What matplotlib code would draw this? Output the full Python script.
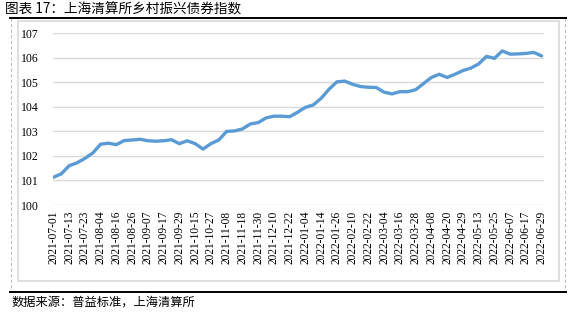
import numpy as np
import matplotlib
matplotlib.use("Agg")
import matplotlib.pyplot as plt
from matplotlib.lines import Line2D
from matplotlib.patches import Rectangle

# tick labels (every 8 trading days)
tick_labels = [
    "2021-07-01", "2021-07-13", "2021-07-23", "2021-08-04", "2021-08-16",
    "2021-08-26", "2021-09-07", "2021-09-17", "2021-09-29", "2021-10-15",
    "2021-10-27", "2021-11-08", "2021-11-18", "2021-11-30", "2021-12-10",
    "2021-12-22", "2022-01-04", "2022-01-14", "2022-01-26", "2022-02-10",
    "2022-02-22", "2022-03-04", "2022-03-16", "2022-03-28", "2022-04-08",
    "2022-04-20", "2022-04-29", "2022-05-13", "2022-05-25", "2022-06-07",
    "2022-06-17", "2022-06-29",
]
tick_step = 8

# index values read every 4 trading days
sample_step = 4
index_values = [
    101.13, 101.27, 101.60, 101.72, 101.90, 102.12, 102.48, 102.52,
    102.46, 102.63, 102.65, 102.68, 102.62, 102.60, 102.62, 102.66,
    102.50, 102.62, 102.50, 102.28, 102.50, 102.65, 103.00, 103.02,
    103.10, 103.30, 103.36, 103.55, 103.62, 103.62, 103.60, 103.78,
    103.98, 104.08, 104.35, 104.72, 105.02, 105.05, 104.92, 104.83,
    104.80, 104.79, 104.60, 104.53, 104.62, 104.62, 104.70, 104.95,
    105.20, 105.33, 105.20, 105.33, 105.48, 105.58, 105.75, 106.06,
    105.98, 106.28, 106.15, 106.16, 106.18, 106.22, 106.08,
]
y_ticks = [100, 101, 102, 103, 104, 105, 106, 107]

title = "图表 17：上海清算所乡村振兴债券指数"
source = "数据来源：普益标准，上海清算所"

W, H = 579, 313
cjk = ["Noto Sans CJK SC", "DejaVu Sans"]
serif = ["Liberation Serif", "DejaVu Serif"]


def fx(px):
    return px / W


def fy(py):
    return 1 - py / H


fig = plt.figure(figsize=(W / 100, H / 100), dpi=100)
fig.patch.set_facecolor("white")

# frame decorations
fig.add_artist(Rectangle((fx(18), fy(281)), fx(559) - fx(18), fy(21) - fy(281),
                         transform=fig.transFigure, fill=False,
                         edgecolor="#d9d9d9", linewidth=1.2))
for px in (10.5, 565):
    fig.add_artist(Line2D([fx(px), fx(px)], [fy(18), fy(292)], transform=fig.transFigure,
                          color="#bfbfbf", linewidth=0.8, linestyle=(0, (3, 2))))
for py in (17.5, 292):
    fig.add_artist(Line2D([fx(10), fx(566)], [fy(py), fy(py)], transform=fig.transFigure,
                          color="black", linewidth=1.4))

fig.text(fx(5), fy(9), title, family=cjk, fontsize=9.8, va="center", ha="left")
fig.text(fx(12), fy(302), source, family=cjk, fontsize=8.8, va="center", ha="left")

ax = fig.add_axes([fx(53), fy(205), fx(544) - fx(53), fy(33.3) - fy(205)])
x = np.arange(len(index_values)) * sample_step
ax.plot(x, index_values, color="#5b9bd5", linewidth=2.4, solid_capstyle="round")

ax.set_ylim(100, 107)
ax.set_xlim(-0.2, 249.2)
ax.set_yticks(y_ticks)
ax.set_yticklabels([str(v) for v in y_ticks], family=serif, fontsize=8.5)
ax.set_xticks(np.arange(len(tick_labels)) * tick_step)
ax.set_xticklabels(tick_labels, rotation=90, family=serif, fontsize=8.3)
ax.tick_params(length=0, pad=4)
ax.tick_params(axis="y", pad=10)
ax.grid(axis="y", color="#d9d9d9", linewidth=1)
ax.set_axisbelow(True)
for s in ax.spines.values():
    s.set_visible(False)

fig.savefig("out.png", dpi=100)
